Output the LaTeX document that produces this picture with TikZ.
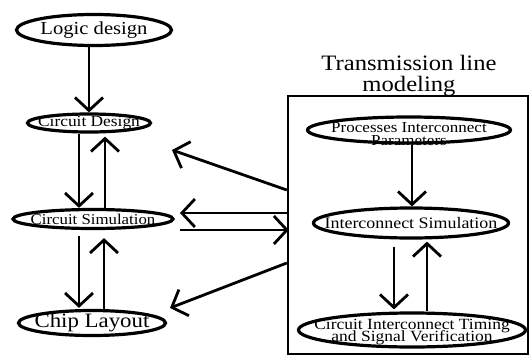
\documentclass[tikz,border=0pt]{standalone}
\usepackage{fontspec}
\setmainfont[FakeStretch=1.12]{Liberation Serif}
\usetikzlibrary{shapes.geometric,arrows.meta}
% font size #1 with baseline distance #2, lines allowed to crowd
\newcommand{\fsz}[2]{\fontsize{#1}{#2}\selectfont\lineskiplimit=-100pt\relax}
\tikzset{
  oval/.style={ellipse, draw, line width=3.2pt, inner sep=0pt},
  lbl/.style={inner sep=0pt, align=center},
  arr/.style={line width=2.8pt, -{Straight Barb[length=13pt,width=28pt,line width=2.8pt]}},
  frame/.style={draw, line width=2.4pt, inner sep=0pt},
}
\begin{document}
\begin{tikzpicture}[x=1pt,y=-1pt]
\useasboundingbox (0,0) rectangle (530,356);
% left column: design flow
\node[oval, minimum width=155pt, minimum height=31pt] (ld) at (94,30) {};
\node[lbl, font=\fsz{18.4}{20}] (ldt) at (ld) {Logic design};
\node[oval, minimum width=123pt, minimum height=18pt] (cd) at (89,123) {};
\node[lbl, font=\fsz{15.5}{17}] (cdt) at (cd) {Circuit Design};
\node[oval, minimum width=160pt, minimum height=19pt] (cs) at (93,219) {};
\node[lbl, font=\fsz{15}{17}] (cst) at (cs) {Circuit Simulation};
\node[oval, minimum width=147pt, minimum height=25pt] (cl) at (92,323) {};
\node[lbl, font=\fsz{20.4}{22}] (clt) at (cl) {Chip Layout};
% right block: transmission line modeling
\node[frame, minimum width=240pt, minimum height=258pt] (tl) at (408,225) {};
\node[lbl, font=\fsz{22}{21}] (tt) at (409,76) {Transmission line\\modeling};
\node[oval, minimum width=203pt, minimum height=26pt] (pp) at (409,130) {};
\node[lbl, font=\fsz{15.2}{12.5}] (ppt) at (409,134) {Processes Interconnect\\Parameters};
\node[oval, minimum width=195pt, minimum height=30pt] (is) at (411,223) {};
\node[lbl, font=\fsz{16}{18}] (ist) at (is) {Interconnect Simulation};
\node[oval, minimum width=227pt, minimum height=34pt] (ct) at (412,330) {};
\node[lbl, font=\fsz{15.6}{12.5}] (ctt) at (412,332) {Circuit Interconnect Timing\\and Signal Verification};
% vertical flow arrows
\draw[arr] ([xshift=-5pt]ld.south) -- (cd.north);
\draw[arr] ([xshift=-10pt]cd.south) -- ([xshift=-14pt]cs.north);
\draw[arr] ([xshift=12pt]cs.north) -- ([xshift=16pt,yshift=-3pt]cd.south);
\draw[arr] ([xshift=-14pt,yshift=-6pt]cs.south) -- ([xshift=-13pt,yshift=1pt]cl.north);
\draw[arr] ([xshift=12pt]cl.north) -- ([xshift=11pt,yshift=-8pt]cs.south);
\draw[arr] ([xshift=3pt]pp.south) -- ([xshift=1pt]is.north);
\draw[arr] ([xshift=-17pt,yshift=-7pt]is.south) -- ([xshift=-18pt,yshift=2pt]ct.north);
\draw[arr] ([xshift=15pt]ct.north) -- ([xshift=16pt,yshift=-2pt]is.south);
% links between the modeling block and the design flow
\coordinate (t1) at (172,150);
\coordinate (t2) at (180,213);
\coordinate (t3) at (180,230);
\coordinate (t4) at (170,308);
\draw[arr] (tl.west |- 0,190) -- (t1);
\draw[arr] (tl.west |- 0,213) -- (t2);
\draw[arr] (t3) -- ([xshift=2pt]tl.west |- 0,230);
\draw[arr] (tl.west |- 0,263) -- (t4);
\end{tikzpicture}
\end{document}
